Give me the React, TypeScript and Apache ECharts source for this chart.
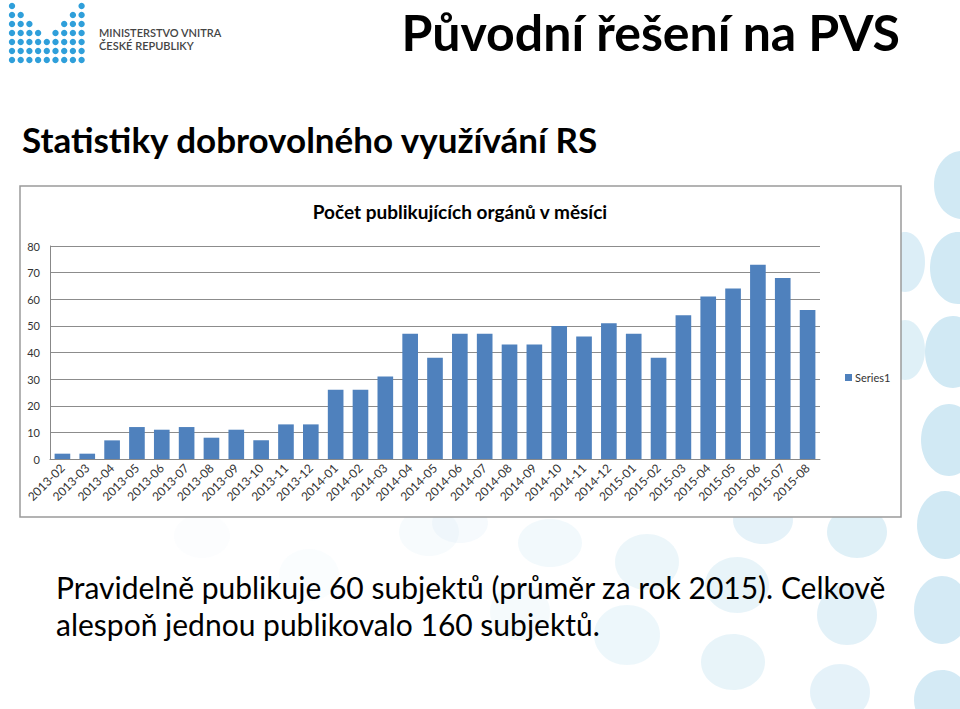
import React, { useEffect, useRef } from "react";
import * as echarts from "echarts";

const months = [
  "2013-02", "2013-03", "2013-04", "2013-05", "2013-06", "2013-07", "2013-08", "2013-09",
  "2013-10", "2013-11", "2013-12", "2014-01", "2014-02", "2014-03", "2014-04", "2014-05",
  "2014-06", "2014-07", "2014-08", "2014-09", "2014-10", "2014-11", "2014-12", "2015-01",
  "2015-02", "2015-03", "2015-04", "2015-05", "2015-06", "2015-07", "2015-08",
];
const series1 = [
  2, 2, 7, 12, 11, 12, 8, 11, 7, 13, 13, 26, 26, 31, 47, 38,
  47, 47, 43, 43, 50, 46, 51, 47, 38, 54, 61, 64, 73, 68, 56,
];
const seriesName = "Series1";
const chartTitle = "Počet publikujících orgánů v měsíci";
const slideTitle = "Původní řešení na PVS";
const slideSubtitle = "Statistiky dobrovolného využívání RS";
const bodyLines = [
  "Pravidelně publikuje 60 subjektů (průměr za rok 2015). Celkově",
  "alespoň jednou publikovalo 160 subjektů.",
];
const logoLines = ["MINISTERSTVO VNITRA", "ČESKÉ REPUBLIKY"];
const logoColumnHeights = [7, 6, 5, 4, 3, 4, 5, 6, 7];

// decorative background ellipses: [cx, cy, rx, ry, opacity]
const bgDots: number[][] = [
  [962, 185, 28, 34, 0.8], [958, 268, 28, 36, 0.8], [953, 352, 28, 36, 0.8],
  [949, 440, 28, 36, 0.8], [945, 525, 28, 34, 0.8], [942, 610, 28, 34, 0.75],
  [942, 700, 28, 30, 0.75], [905, 262, 20, 30, 0.6], [905, 350, 20, 30, 0.55],
  [857, 532, 30, 26, 0.55], [847, 615, 30, 30, 0.5], [840, 692, 30, 28, 0.45],
  [763, 520, 30, 24, 0.45], [737, 585, 32, 28, 0.4], [733, 662, 32, 28, 0.4],
  [647, 562, 32, 28, 0.32], [627, 635, 33, 30, 0.3], [550, 543, 32, 24, 0.22],
  [520, 612, 30, 28, 0.18], [460, 523, 28, 20, 0.16], [429, 532, 30, 24, 0.14],
  [309, 575, 30, 26, 0.08], [202, 536, 28, 22, 0.06],
];

const FONT = "Lato, 'Noto Sans', sans-serif";

export default function App() {
  const ref = useRef<HTMLDivElement>(null);

  useEffect(() => {
    document.body.style.margin = "0";
    if (!ref.current) return;
    const chart = echarts.init(ref.current, undefined, { renderer: "svg" });

    const graphics: any[] = [];
    bgDots.forEach(([cx, cy, rx, ry, op]) => {
      graphics.push({
        type: "ellipse",
        shape: { cx, cy, rx, ry },
        style: { fill: "#c5e3f1", opacity: op },
        z: 0,
        silent: true,
      });
    });
    // chart box
    graphics.push({
      type: "rect",
      shape: { x: 20, y: 186, width: 881, height: 331 },
      style: { fill: "#ffffff", stroke: "#9a9a9a", lineWidth: 1.5 },
      z: 1,
    });
    // logo dots
    logoColumnHeights.forEach((h, ci) => {
      for (let r = 0; r < h; r++) {
        graphics.push({
          type: "circle",
          shape: { cx: 12 + ci * 8.7, cy: 60 - r * 9, r: 3.2 },
          style: { fill: "#2f9fda" },
          z: 2,
        });
      }
    });
    logoLines.forEach((t, i) => {
      graphics.push({
        type: "text",
        x: 99,
        y: 27 + i * 13,
        style: { text: t, fill: "#444444", font: `600 11px ${FONT}` },
        z: 3,
      });
    });
    graphics.push({
      type: "text",
      x: 900,
      y: 7,
      style: { text: slideTitle, fill: "#000000", font: `bold 50px ${FONT}`, textAlign: "right" },
      z: 3,
    });
    graphics.push({
      type: "text",
      x: 22,
      y: 121,
      style: { text: slideSubtitle, fill: "#000000", font: `bold 35px ${FONT}` },
      z: 3,
    });
    graphics.push({
      type: "text",
      x: 460,
      y: 202,
      style: { text: chartTitle, fill: "#000000", font: `bold 19px ${FONT}`, textAlign: "center" },
      z: 3,
    });
    bodyLines.forEach((t, i) => {
      graphics.push({
        type: "text",
        x: 56,
        y: 572 + i * 37,
        style: { text: t, fill: "#000000", font: `30px ${FONT}` },
        z: 3,
      });
    });

    chart.setOption({
      animation: false,
      backgroundColor: "#ffffff",
      graphic: { elements: graphics },
      legend: {
        data: [seriesName],
        left: 840,
        top: 367,
        icon: "rect",
        itemWidth: 7,
        itemHeight: 7,
        itemGap: 3,
        textStyle: { fontSize: 11, color: "#333333", fontFamily: FONT, padding: [0, 0, 0, -2] },
        z: 10,
      },
      grid: { left: 50, right: 140, top: 246, bottom: 250, z: 5 },
      xAxis: {
        type: "category",
        data: months,
        z: 5,
        axisLine: { show: true, lineStyle: { color: "#888888", width: 1 } },
        axisTick: { show: false },
        axisLabel: {
          interval: 0,
          rotate: 45,
          fontSize: 12,
          color: "#333333",
          fontFamily: FONT,
          margin: 7,
        },
      },
      yAxis: {
        type: "value",
        min: 0,
        max: 80,
        interval: 10,
        z: 5,
        axisLine: { show: true, lineStyle: { color: "#888888", width: 1 } },
        axisTick: { show: false },
        splitLine: { show: true, lineStyle: { color: "#8c8c8c", width: 1 } },
        axisLabel: { fontSize: 11, color: "#333333", fontFamily: FONT, margin: 10 },
      },
      series: [
        {
          name: seriesName,
          type: "bar",
          data: series1,
          barWidth: "63%",
          z: 6,
          itemStyle: { color: "#4f81bd" },
        },
      ],
    });

    return () => chart.dispose();
  }, []);

  return (
    <div
      ref={ref}
      style={{ position: "absolute", left: 0, top: 0, width: 960, height: 709 }}
    />
  );
}
